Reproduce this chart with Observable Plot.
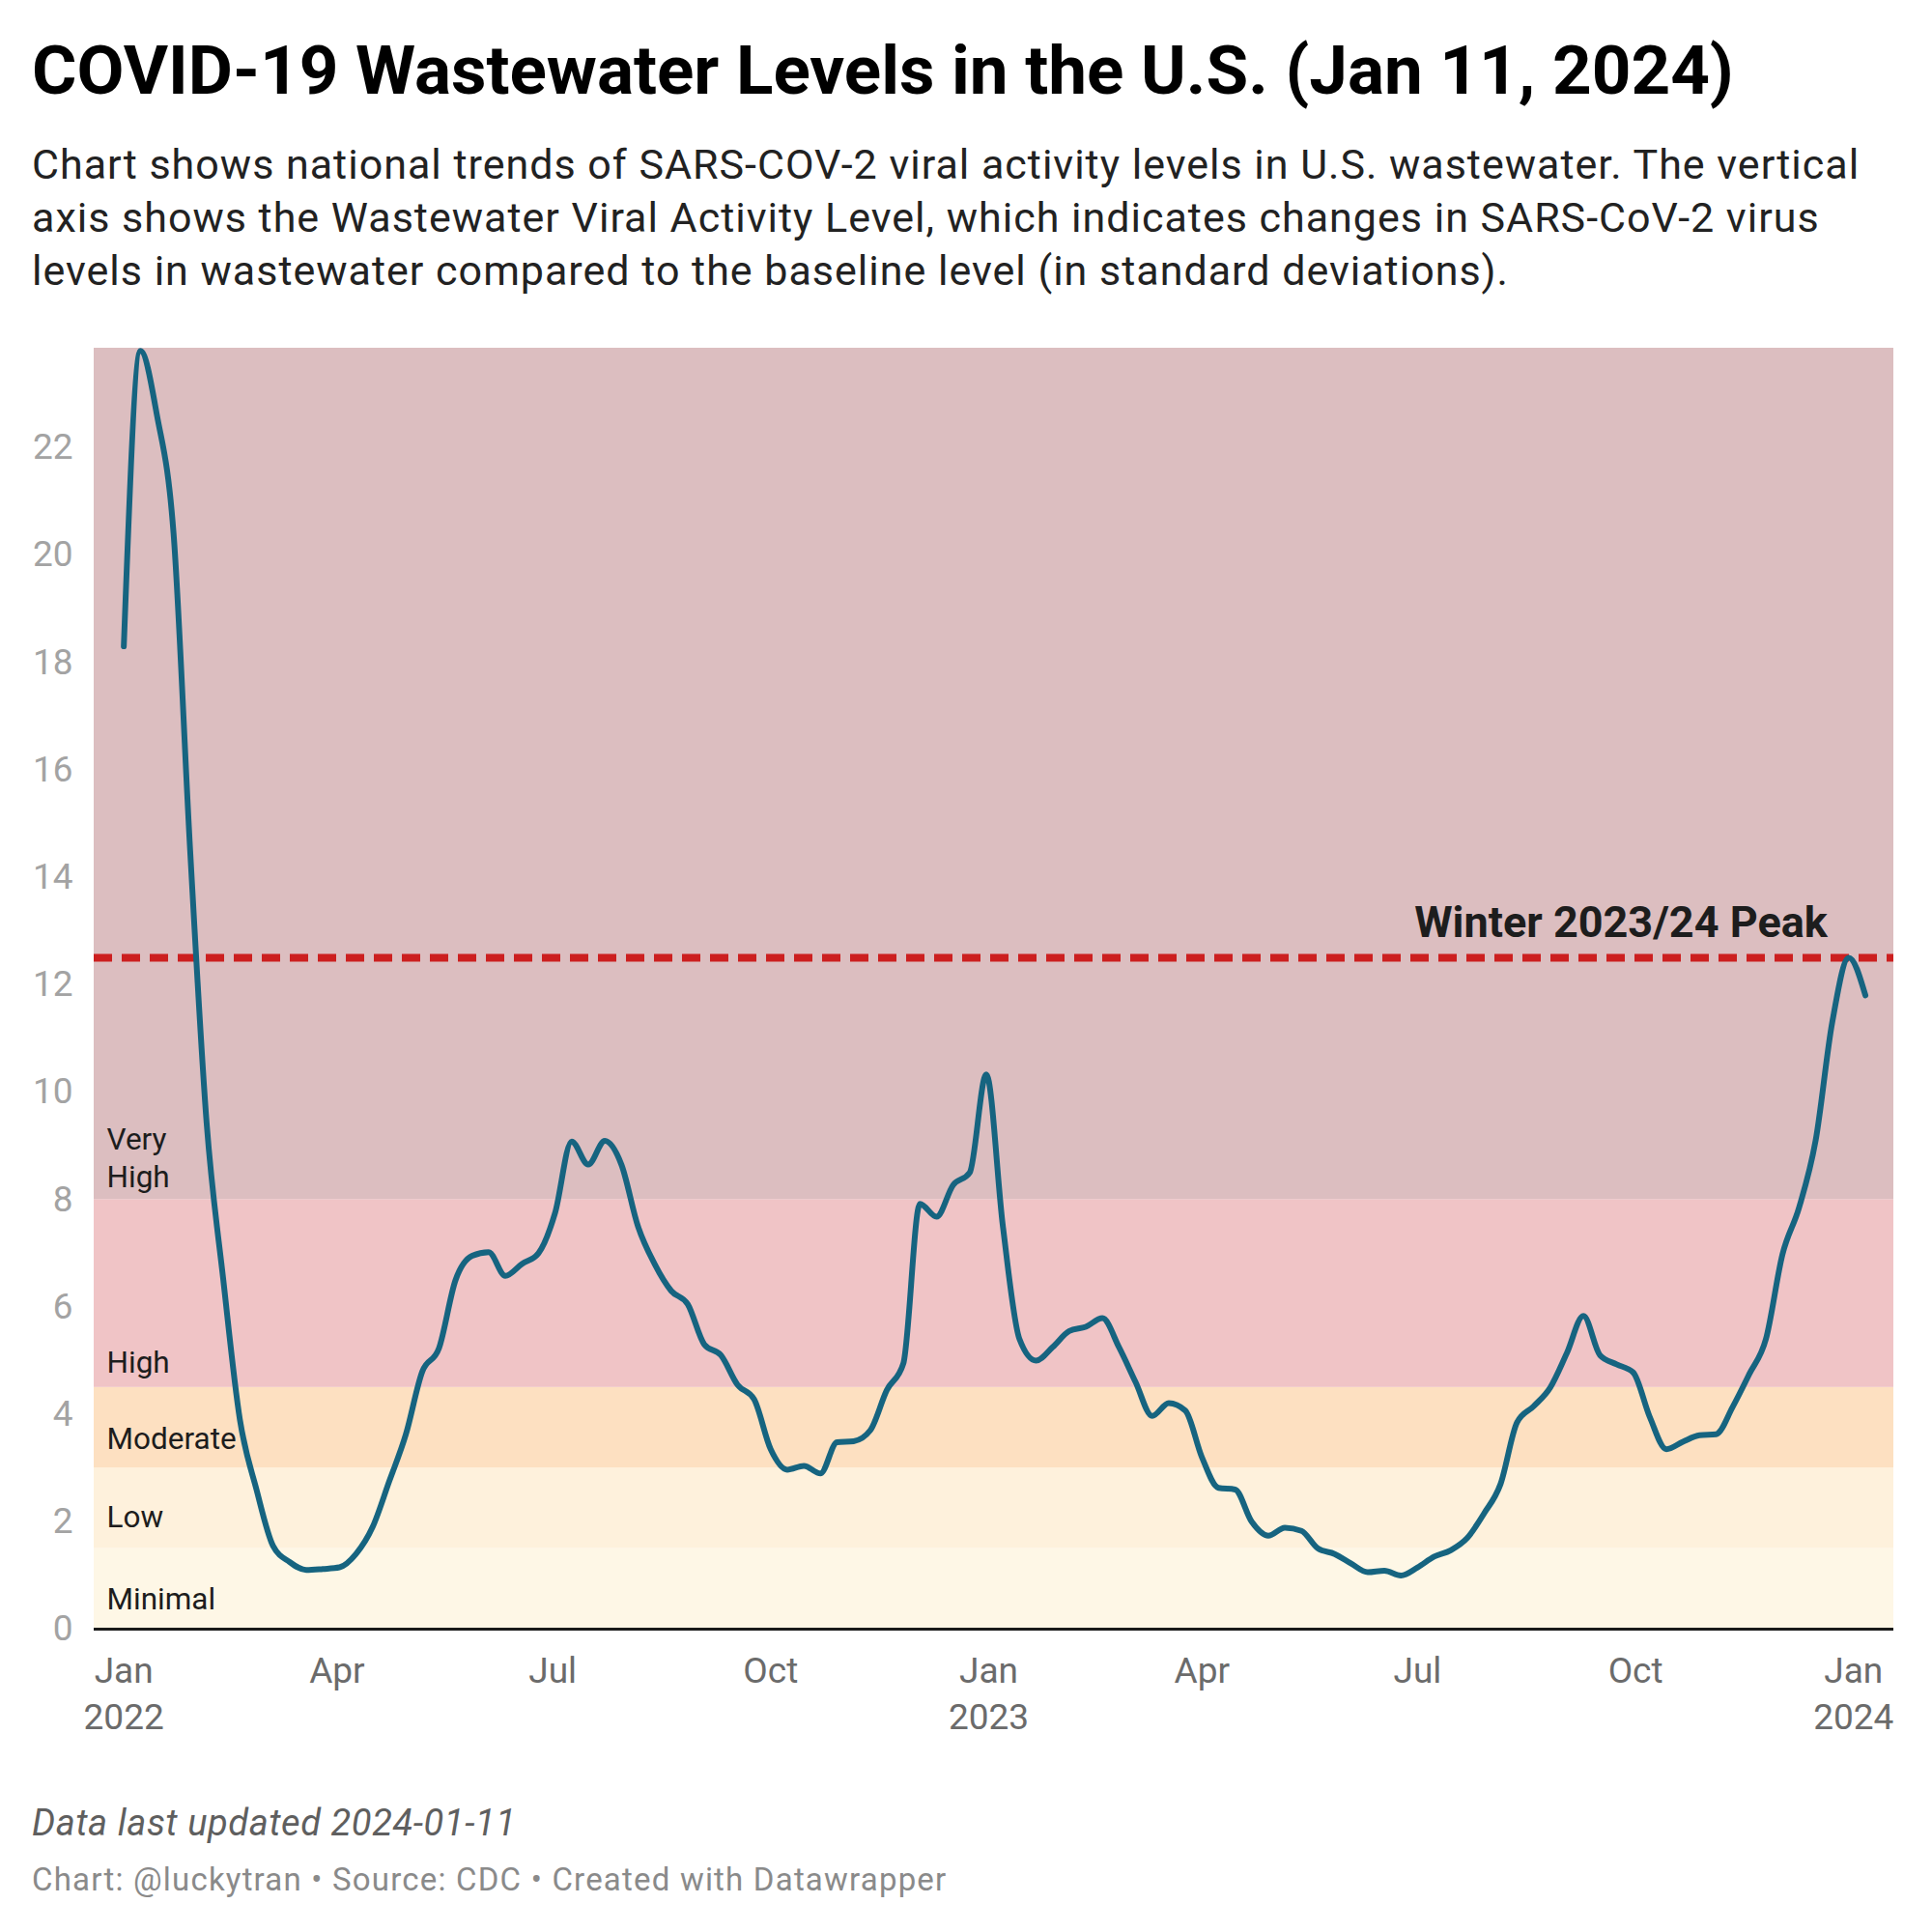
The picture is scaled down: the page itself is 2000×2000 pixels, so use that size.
<!DOCTYPE html>
<html>
<head>
<meta charset="utf-8">
<script src="https://cdn.jsdelivr.net/npm/d3@7"></script>
<script src="https://cdn.jsdelivr.net/npm/@observablehq/plot@0.6"></script>
<style>
  html, body { margin: 0; padding: 0; background: #ffffff; }
  body { width: 2000px; height: 2000px; position: relative; font-family: Roboto, "Noto Sans", sans-serif; }
  .abs { position: absolute; left: 33px; white-space: nowrap; }
  #title { top: 37px; font-size: 71px; line-height: 71px; font-weight: 700; color: #000000; }
  #subtitle { top: 143px; font-size: 43px; line-height: 55px; letter-spacing: 1px; color: #222222; }
  #note { top: 1868px; font-size: 38px; line-height: 38px; letter-spacing: 0.6px; font-style: italic; color: #5f5f5f; }
  #credit { top: 1929px; font-size: 33px; line-height: 33px; letter-spacing: 1.2px; color: #8a8a8a; }
  #chart { position: absolute; left: 0; top: 300px; }
</style>
</head>
<body>
<div id="title" class="abs">COVID-19 Wastewater Levels in the U.S. (Jan 11, 2024)</div>
<div id="subtitle" class="abs">Chart shows national trends of SARS-COV-2 viral activity levels in U.S. wastewater. The vertical<br>axis shows the Wastewater Viral Activity Level, which indicates changes in SARS-CoV-2 virus<br>levels in wastewater compared to the baseline level (in standard deviations).</div>
<div id="chart"></div>
<div id="note" class="abs">Data last updated 2024-01-11</div>
<div id="credit" class="abs">Chart: @luckytran • Source: CDC • Created with Datawrapper</div>
<script>
// ---- Data ----
const firstWeek = "2022-01-01";
const lastWeek = "2024-01-06";
// Weekly national Wastewater Viral Activity Level
const weeklyLevels = [
  18.3, 23.8, 22.6, 20.4, 14.5, 9.4, 6.5, 3.9, 2.6, 1.55,
  1.25, 1.1, 1.12, 1.15, 1.4, 1.9, 2.75, 3.62, 4.8, 5.23,
  6.5, 6.95, 7.02, 6.58, 6.8, 7.0, 7.75, 9.08, 8.65, 9.09,
  8.65, 7.5, 6.8, 6.3, 6.05, 5.3, 5.1, 4.55, 4.28, 3.35,
  2.97, 3.04, 2.9, 3.48, 3.5, 3.7, 4.45, 4.95, 7.92, 7.68,
  8.27, 8.5, 10.33, 7.5, 5.4, 5.0, 5.25, 5.55, 5.63, 5.79,
  5.25, 4.6, 3.97, 4.21, 4.07, 3.2, 2.63, 2.6, 2.0, 1.74,
  1.89, 1.83, 1.5, 1.4, 1.22, 1.06, 1.09, 1.0, 1.15, 1.35,
  1.47, 1.7, 2.15, 2.7, 3.85, 4.15, 4.5, 5.14, 5.83, 5.1,
  4.93, 4.78, 3.95, 3.35, 3.49, 3.61, 3.63, 4.14, 4.75, 5.4,
  6.98, 7.85, 9.1, 11.3, 12.5, 11.8
];

const bandNames  = ["Minimal", "Low", "Moderate", "High", "Very High"];
const bandLower  = [0, 1.5, 3, 4.5, 8];
const bandUpper  = [1.5, 3, 4.5, 8, 23.85];
const bandColors = ["#fef7e6", "#fef1dc", "#fde0c1", "#f0c4c6", "#dcbec0"];
const bandLabelText = ["Minimal", "Low", "Moderate", "High", "Very\nHigh"];
const bandLabelY    = [0.36, 1.89, 3.35, 4.78, 8.22];

const peakValue = 12.5;
const peakLabel = "Winter 2023/24 Peak";
const peakLabelDate = "2023-12-21";

const yTicks = [0, 2, 4, 6, 8, 10, 12, 14, 16, 18, 20, 22];
const xTickDates  = ["2022-01-01", "2022-04-01", "2022-07-01", "2022-10-01", "2023-01-01", "2023-04-01", "2023-07-01", "2023-10-01", "2024-01-01"];
const xTickLabels = ["Jan\n2022", "Apr", "Jul", "Oct", "Jan\n2023", "Apr", "Jul", "Oct", "Jan\n2024"];
const xDomain = ["2021-12-19T12:00:00Z", "2024-01-18T00:00:00Z"];
const yDomain = [0, 23.85];

// ---- Tables built from the arrays ----
const weeks = d3.utcSaturday.range(new Date(firstWeek), d3.utcDay.offset(new Date(lastWeek), 1));
const series = weeks.map((d, i) => ({date: d, value: weeklyLevels[i]}));
const bands = bandNames.map((n, i) => ({name: n, lo: bandLower[i], hi: bandUpper[i], color: bandColors[i]}));
const bandLabels = bandLabelText.map((t, i) => ({text: t, y: bandLabelY[i]}));
const tickDates = xTickDates.map(s => new Date(s));
const tickLabelMap = new Map(tickDates.map((d, i) => [+d, xTickLabels[i]]));

const chart = Plot.plot({
  width: 2000,
  height: 1500,
  marginTop: 60,
  marginBottom: 114,
  marginLeft: 97,
  marginRight: 40,
  style: {fontFamily: "Roboto, 'Noto Sans', sans-serif", background: "none", overflow: "visible"},
  x: {type: "utc", domain: xDomain.map(s => new Date(s))},
  y: {domain: yDomain},
  color: {type: "identity"},
  marks: [
    Plot.rect(bands, {y1: "lo", y2: "hi", fill: "color"}),
    Plot.text(bandLabels, {
      y: "y", text: "text", frameAnchor: "left", dx: 13,
      textAnchor: "start", lineAnchor: "bottom",
      fontSize: 31.5, lineHeight: 1.24, fill: "#1d1d1d"
    }),
    Plot.ruleY([peakValue], {stroke: "#cc1f1f", strokeWidth: 8, strokeDasharray: "19,10"}),
    Plot.text([peakLabel], {
      x: () => new Date(peakLabelDate), y: () => peakValue, text: d => d,
      textAnchor: "end", lineAnchor: "bottom", dy: -22,
      fontSize: 45, fontWeight: 700, fill: "#1d1d1d"
    }),
    Plot.line(series, {x: "date", y: "value", stroke: "#166480", strokeWidth: 6, curve: "monotone-x", strokeLinecap: "round", strokeLinejoin: "round"}),
    Plot.ruleY([0], {stroke: "#1a1a1a", strokeWidth: 3}),
    Plot.axisY({ticks: yTicks, tickSize: 0, tickPadding: 22, fontSize: 37, color: "#a3a3a3", label: null}),
    Plot.axisX({
      ticks: tickDates, tickFormat: d => tickLabelMap.get(+d),
      tickSize: 0, tickPadding: 21, fontSize: 37, lineHeight: 1.3,
      color: "#6b6b6b", label: null
    })
  ]
});
document.getElementById("chart").appendChild(chart);
</script>
</body>
</html>
